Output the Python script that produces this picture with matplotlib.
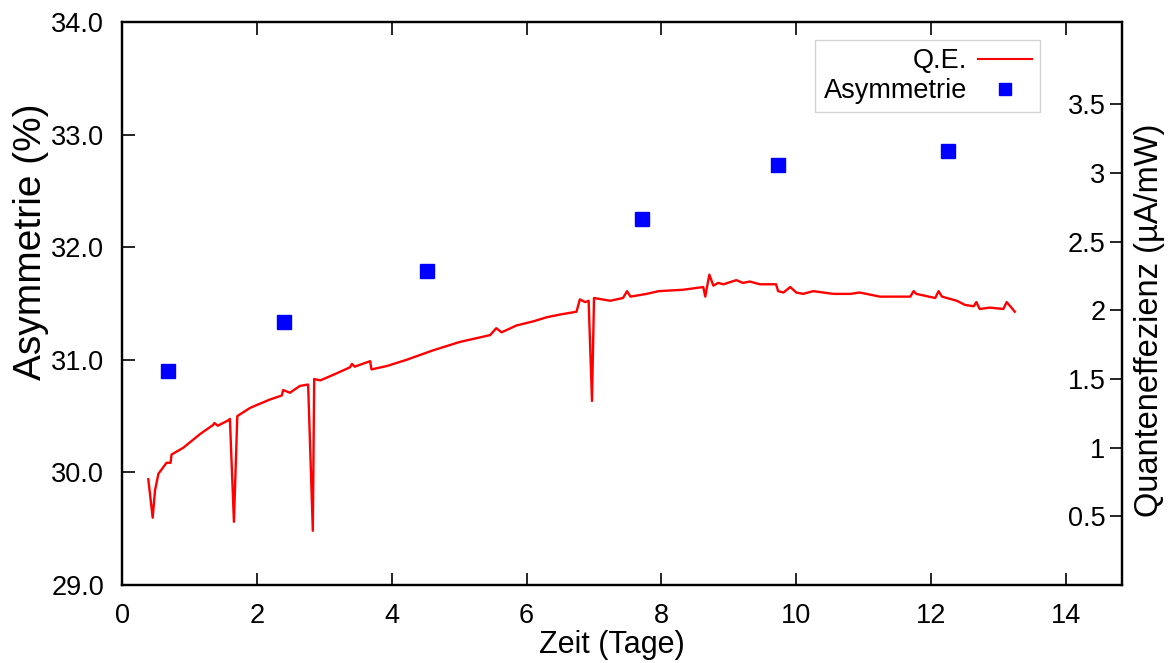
import matplotlib
matplotlib.use("Agg")
import matplotlib.pyplot as plt
from matplotlib.lines import Line2D

plt.rcParams['font.family'] = ['Liberation Sans', 'DejaVu Sans']

# Quanteneffizienz (right axis), Zeit in Tagen
qe_t = [0.39, 0.455, 0.49, 0.54, 0.66, 0.72, 0.735, 0.91, 1.06, 1.16, 1.35, 1.37, 1.42,
        1.58, 1.60, 1.66, 1.71, 1.90, 2.19, 2.37, 2.39, 2.49, 2.64, 2.76, 2.83, 2.85,
        2.94, 3.13, 3.38, 3.41, 3.45, 3.68, 3.70, 3.93, 4.22, 4.62, 5.01, 5.46, 5.55,
        5.63, 5.85, 6.10, 6.30, 6.50, 6.74, 6.79, 6.87, 6.92, 6.97, 7.00, 7.24, 7.43,
        7.49, 7.54, 7.78, 7.96, 8.32, 8.62, 8.65, 8.71, 8.77, 8.84, 8.92, 9.11, 9.21,
        9.31, 9.46, 9.70, 9.73, 9.81, 9.91, 10.00, 10.10, 10.25, 10.55, 10.80, 10.94,
        11.24, 11.54, 11.69, 11.74, 11.78, 12.06, 12.11, 12.16, 12.38, 12.50, 12.63,
        12.67, 12.72, 12.87, 13.07, 13.12, 13.19, 13.24]
qe_v = [0.77, 0.49, 0.69, 0.81, 0.89, 0.89, 0.95, 1.00, 1.06, 1.10, 1.165, 1.18, 1.16,
        1.20, 1.21, 0.46, 1.23, 1.29, 1.35, 1.38, 1.42, 1.40, 1.45, 1.46, 0.395, 1.50,
        1.49, 1.53, 1.585, 1.61, 1.59, 1.63, 1.57, 1.595, 1.64, 1.71, 1.77, 1.82, 1.87,
        1.84, 1.89, 1.92, 1.95, 1.97, 1.99, 2.08, 2.06, 2.07, 1.34, 2.09, 2.07, 2.09,
        2.14, 2.10, 2.12, 2.14, 2.15, 2.17, 2.10, 2.26, 2.18, 2.20, 2.19, 2.22, 2.20,
        2.21, 2.19, 2.19, 2.14, 2.13, 2.17, 2.13, 2.12, 2.14, 2.12, 2.12, 2.13,
        2.10, 2.10, 2.10, 2.14, 2.12, 2.09, 2.14, 2.10, 2.07, 2.04, 2.03,
        2.06, 2.01, 2.02, 2.01, 2.06, 2.02, 1.99]

# Asymmetrie (left axis)
asym_t = [0.68, 2.40, 4.52, 7.71, 9.73, 12.25]
asym_v = [30.90, 31.34, 31.79, 32.25, 32.73, 32.85]

x_ticks = [0, 2, 4, 6, 8, 10, 12, 14]
y1_ticks = [29.0, 30.0, 31.0, 32.0, 33.0, 34.0]
y2_ticks = [0.5, 1, 1.5, 2, 2.5, 3, 3.5]
y2_labels = ['0.5', '1', '1.5', '2', '2.5', '3', '3.5']

fs_tick = 19.5
fig = plt.figure(figsize=(11.75, 6.63), dpi=100)
ax1 = fig.add_axes([122/1175, 1-585/663, 1000/1175, 563/663])
ax2 = ax1.twinx()

ax2.plot(qe_t, qe_v, color='#ff0000', lw=1.7, label='Q.E.')
ax1.plot(asym_t, asym_v, ls='none', marker='s', ms=10, color='#0000ff', label='Asymmetrie')
ax1.set_zorder(2)
ax1.patch.set_visible(False)

ax1.set_xlim(0, 14.83)
ax1.set_ylim(29.0, 34.0)
ax2.set_ylim(0, 4.1)

ax1.set_xticks(x_ticks)
ax1.set_xticklabels([str(v) for v in x_ticks])
ax1.set_yticks(y1_ticks)
ax1.set_yticklabels([f'{v:.1f}' for v in y1_ticks])
ax2.set_yticks(y2_ticks)
ax2.set_yticklabels(y2_labels)

ax1.tick_params(axis='x', direction='in', length=9, width=1.2, top=True,
                labelsize=fs_tick, pad=13)
ax1.tick_params(axis='y', direction='in', length=9, width=1.2, labelsize=fs_tick, pad=13)
ax2.tick_params(axis='y', direction='in', length=9, width=1.2, labelsize=fs_tick, pad=-12)
for t in ax2.get_yticklabels():
    t.set_ha('right')
for ax in (ax1, ax2):
    for s in ax.spines.values():
        s.set_linewidth(1.6)

ax1.set_xlabel('Zeit (Tage)', fontsize=22)
ax1.xaxis.set_label_coords(0.49, -0.08)
ax1.set_ylabel('Asymmetrie (%)', fontsize=28)
ax1.yaxis.set_label_coords(-0.073, 0.61)
ax2.set_ylabel('Quanteneffezienz (µA/mW)', fontsize=23.5)
ax2.yaxis.set_label_coords(1.012, 0.47)

handles = [Line2D([], [], color='#ff0000', lw=1.5),
           Line2D([], [], ls='none', marker='s', ms=8, color='#0000ff')]
leg = ax1.legend(handles, ['Q.E.', 'Asymmetrie'], loc='upper right',
                 bbox_to_anchor=(0.918, 0.968), borderaxespad=0, markerfirst=False,
                 fontsize=fs_tick, frameon=True, fancybox=False, edgecolor='#c8c8c8',
                 handlelength=2.0, borderpad=0.3, labelspacing=0.15, handletextpad=0.4)
leg.get_frame().set_linewidth(1.0)
for t in leg.get_texts():
    t.set_ha('right')

fig.savefig('out.png', dpi=100)
